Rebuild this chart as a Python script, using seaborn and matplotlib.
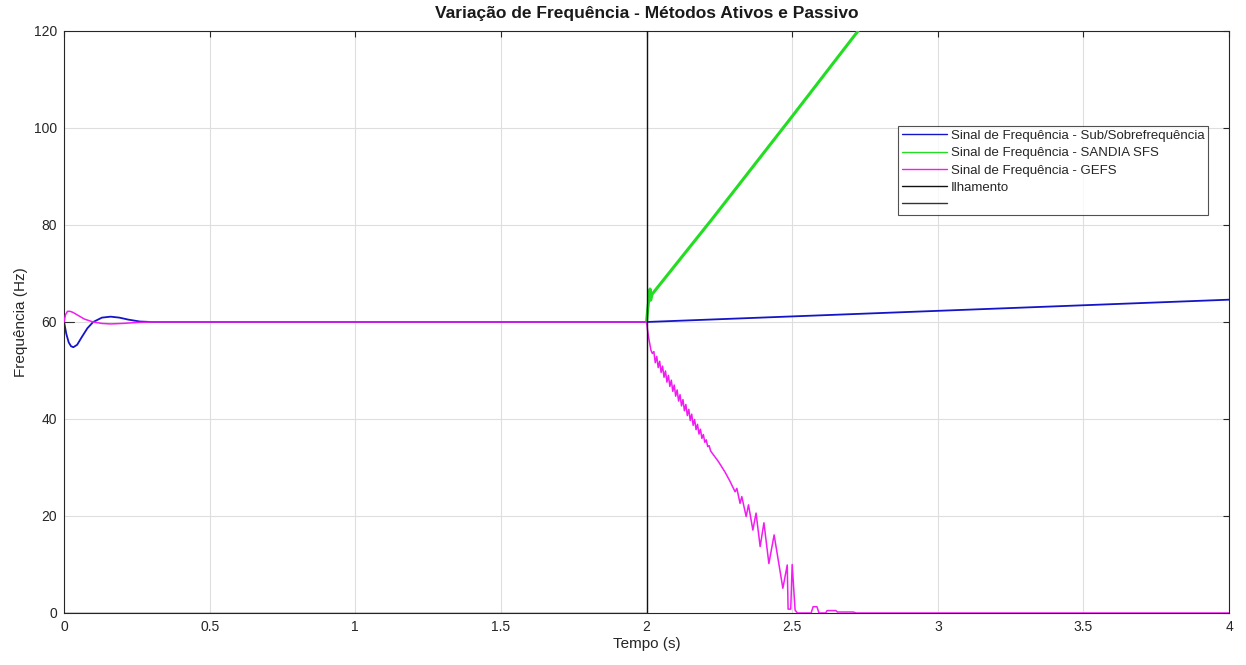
import matplotlib.pyplot as plt
import pandas as pd
import seaborn as sns

# Sub/Sobrefrequência (blue)
sub_t = [0, 0.008, 0.016, 0.024, 0.032, 0.045, 0.06, 0.08, 0.1, 0.13, 0.16, 0.19, 0.22, 0.26, 0.3, 2.0, 4.0]
sub_f = [60, 57.5, 55.8, 55.0, 54.8, 55.3, 56.8, 58.7, 60.0, 60.9, 61.1, 60.9, 60.5, 60.1, 60.0, 60.0, 64.6]

# SANDIA SFS (green), only visible after the islanding
sfs_t = [2.0, 2.004, 2.008, 2.012, 2.014, 2.018, 2.02, 2.23, 2.5, 2.726]
sfs_f = [60, 62.6, 64.7, 66.8, 64.5, 65.5, 65.8, 81.6, 102.4, 120.0]

# GEFS (magenta)
gefs_t = [0, 0.005, 0.012, 0.02, 0.03, 0.05, 0.07, 0.1, 0.13, 0.16, 0.2, 0.25, 0.3, 2.0,
          2.003, 2.008, 2.015, 2.02,
          2.025, 2.030, 2.035, 2.040, 2.045, 2.050, 2.055, 2.060, 2.065, 2.070,
          2.075, 2.080, 2.085, 2.090, 2.095, 2.100, 2.105, 2.110, 2.115, 2.120,
          2.125, 2.130, 2.135, 2.140, 2.145, 2.150, 2.155, 2.160, 2.165, 2.170,
          2.175, 2.180, 2.185, 2.190, 2.195, 2.200, 2.205, 2.210, 2.215, 2.220,
          2.247, 2.270, 2.287, 2.2925, 2.304, 2.310, 2.321, 2.327, 2.342, 2.350,
          2.365, 2.376, 2.390, 2.403, 2.420, 2.438, 2.468, 2.483, 2.486, 2.495,
          2.500, 2.510, 2.518, 2.565, 2.572, 2.585, 2.592, 2.615, 2.62, 2.65,
          2.655, 2.71, 2.72, 4.0]
gefs_f = [60, 61.5, 62.2, 62.2, 62.0, 61.3, 60.6, 60.0, 59.7, 59.6, 59.7, 59.9, 60.0, 60.0,
          58.5, 56.5, 54.2, 53.5,
          53.9, 51.6, 52.9, 50.6, 51.9, 49.6, 50.9, 48.6, 49.9, 47.6,
          49.0, 46.7, 48.0, 45.7, 47.0, 44.7, 46.0, 43.7, 45.0, 42.7,
          44.0, 41.7, 43.0, 40.7, 42.0, 39.7, 41.0, 38.7, 39.9, 37.8,
          38.9, 36.9, 37.9, 36.0, 36.8, 35.2, 35.7, 34.3, 34.5, 33.4,
          31.2, 29.0, 27.1, 26.4, 25.0, 25.7, 22.6, 24.0, 19.9, 22.3,
          17.1, 20.6, 13.7, 18.6, 10.2, 16.1, 5.1, 9.9, 0.8, 0.8,
          10.0, 0.6, 0.0, 0.0, 1.3, 1.3, 0.0, 0.0, 0.5, 0.5,
          0.2, 0.2, 0.0, 0.0]

# Ilhamento (black step at t = 2 s)
ilh_t = [0, 2.0, 2.0, 4.0]
ilh_f = [0, 0, 1000, 1000]

# unnamed black signal
blank_t = [0, 0.035]
blank_f = [60, 60]

series = [
    ("Sinal de Frequência - Sub/Sobrefrequência", sub_t, sub_f, "#1414c8", 1.3, 2),
    ("Sinal de Frequência - SANDIA SFS", sfs_t, sfs_f, "#22dd22", 2.2, 3),
    ("Sinal de Frequência - GEFS", gefs_t, gefs_f, "#f21bf2", 1.1, 4),
    ("Ilhamento", ilh_t, ilh_f, "#111111", 1.0, 5),
    (" ", blank_t, blank_f, "#333333", 0.8, 1),
]


def main():
  sns.set_style("whitegrid")
  plt.rcParams["font.family"] = ["Liberation Sans", "DejaVu Sans"]
  fig = plt.figure(figsize=(12.46, 6.65), dpi=100)
  ax = fig.add_axes([0.0514, 0.0782, 0.9350, 0.8752])

  for label, t, f, color, lw, z in series:
    df = pd.DataFrame({"t": t, "f": f})
    sns.lineplot(data=df, x="t", y="f", ax=ax, color=color, linewidth=lw,
                 estimator=None, sort=False, label=label, zorder=z)

  ax.set_xlim(0, 4)
  ax.set_ylim(0, 120)
  ax.set_xticks([0, 0.5, 1, 1.5, 2, 2.5, 3, 3.5, 4])
  ax.set_xticklabels(["0", "0.5", "1", "1.5", "2", "2.5", "3", "3.5", "4"])
  ax.set_yticks(range(0, 121, 20))
  ax.grid(True, color="#dedede", linewidth=0.8)
  for s in ax.spines.values():
    s.set_color("#262626")
    s.set_linewidth(0.8)
  ax.tick_params(direction="in", length=4, width=0.8, top=True, right=True,
                 labelsize=10, colors="#262626", pad=5)
  ax.set_xlabel("Tempo (s)", fontsize=11, color="#262626", labelpad=2)
  ax.set_ylabel("Frequência (Hz)", fontsize=11, color="#262626", labelpad=4)
  ax.set_title("Variação de Frequência - Métodos Ativos e Passivo",
               fontsize=12.5, fontweight="bold", color="#1a1a1a", pad=9)

  handles, labels = ax.get_legend_handles_labels()
  order = [1, 2, 3, 4, 0]  # keep the legend in series order
  leg = ax.legend(handles, labels, loc="upper right", bbox_to_anchor=(0.982, 0.837),
                  fontsize=9.5, frameon=True, fancybox=False, handlelength=3.4,
                  handletextpad=0.3, borderpad=0.3, labelspacing=0.38, borderaxespad=0)
  leg.get_frame().set_edgecolor("#262626")
  leg.get_frame().set_linewidth(0.8)
  for line in leg.get_lines():
    line.set_linewidth(1.0)

  fig.savefig("out.png", dpi=100, facecolor="white")
  plt.close(fig)


if __name__ == "__main__":
  main()
